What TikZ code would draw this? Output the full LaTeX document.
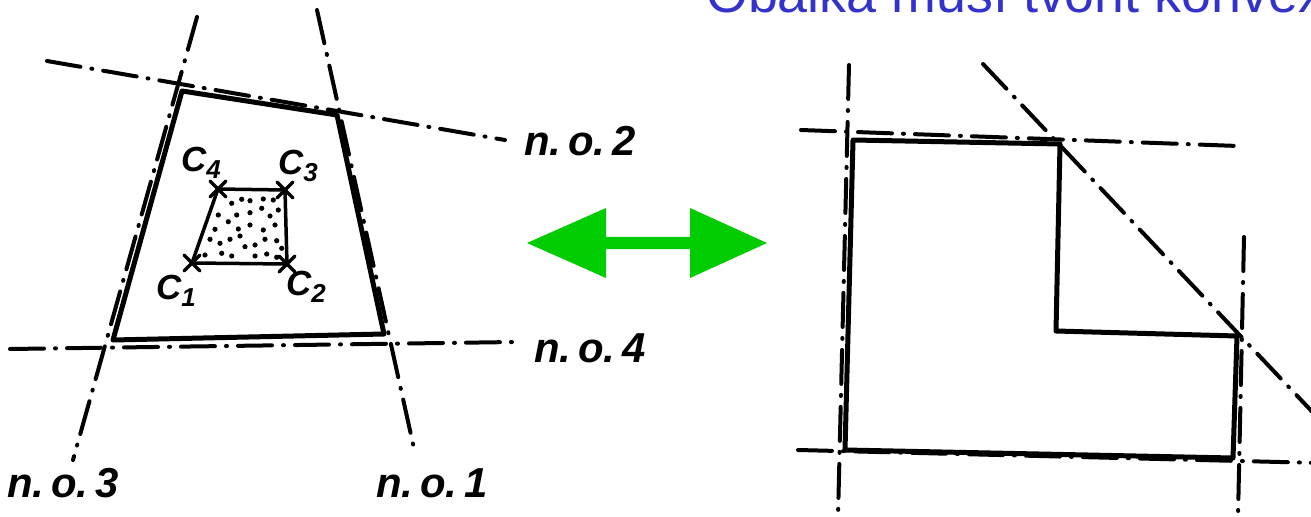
\documentclass[tikz,border=0pt]{standalone}
\usepackage{fontspec}
\newfontfamily\hand{Liberation Sans}
\newfontfamily\titlefont{Liberation Sans}
\definecolor{titleblue}{RGB}{51,51,204}
\definecolor{arrowgreen}{RGB}{0,204,0}
\begin{document}
\begin{tikzpicture}[x=1bp,y=-1bp,
  axisline/.style={line width=4bp,line cap=round,dash pattern=on 34bp off 11bp on 1bp off 11bp},
  outline/.style={line width=5bp,line join=round,line cap=round},
  thin outline/.style={line width=3.5bp,line join=round},
  lbl/.style={font=\hand\bfseries\itshape\fontsize{42}{42}\selectfont,inner sep=0pt},
  clbl/.style={font=\hand\bfseries\itshape\fontsize{35}{35}\selectfont,inner sep=0pt},
  cross/.style={line width=3.5bp,line cap=round}]
\useasboundingbox (0,0) rectangle (1311,517);
\clip (0,0) rectangle (1311,517);
\fill[white] (0,0) rectangle (1311,517);

% title (cropped at top, as in the reference)
\node[anchor=base west,inner sep=0pt,text=titleblue,font=\titlefont\fontsize{54}{54}\selectfont] (title) at (706,13) {Obálka musí tvořit konvexní};

% ---------- left figure ----------
\coordinate (l2a) at (47,61);  \coordinate (l2b) at (505,140);
\coordinate (l4a) at (10,349); \coordinate (l4b) at (515,342);
\coordinate (l3a) at (197,17); \coordinate (l3b) at (73,460);
\coordinate (l1a) at (317,10); \coordinate (l1b) at (415,453);
\draw[axisline] (l2a) -- (l2b);
\draw[axisline] (l4a) -- (l4b);
\draw[axisline] (l3a) -- (l3b);
\draw[axisline] (l1a) -- (l1b);

\coordinate (p1) at (182,91);
\coordinate (p2) at (337,115);
\coordinate (p3) at (384,334);
\coordinate (p4) at (113,340);
\draw[outline] (p1) -- (p2) -- (p3) -- (p4) -- cycle;

\coordinate (c1) at (192,263);
\coordinate (c2) at (287,264);
\coordinate (c3) at (285,190);
\coordinate (c4) at (218,189);
\draw[thin outline] (c1) -- (c2) -- (c3) -- (c4) -- cycle;
\foreach \p in {(231.7,203.3),(241.7,199.3),(250,200.7),(263.3,199),(273.3,200),
  (218.3,215),(228.3,221.7),(236.7,215),(250,212.7),(261.7,208.3),(270,216),(278.3,210),
  (215,229.3),(238.3,229),(250,225),(263.3,230),(275,225),
  (210,239.3),(220,243.3),(230,239.3),(240,236),(245,246.7),(255,245),(265,239.3),(276.7,240.7),(281.7,248.3),
  (205,255),(221.7,253.3),(231.7,256),(255,256),(266.7,254),(276.7,257.3)}
  \fill \p circle (2.6bp);
\foreach \c in {c1,c2,c3,c4}{
  \draw[cross] ([shift={(-8bp,-8bp)}]\c) -- ([shift={(8bp,8bp)}]\c);
  \draw[cross] ([shift={(-8bp,8bp)}]\c) -- ([shift={(8bp,-8bp)}]\c);
}
\node[clbl] (lc4) at (201,163) {C\raisebox{-7bp}{\fontsize{26}{26}\selectfont 4}};
\node[clbl] (lc3) at (298,166) {C\raisebox{-7bp}{\fontsize{26}{26}\selectfont 3}};
\node[clbl] (lc1) at (176,291) {C\raisebox{-7bp}{\fontsize{26}{26}\selectfont 1}};
\node[clbl] (lc2) at (306,287) {C\raisebox{-7bp}{\fontsize{26}{26}\selectfont 2}};

\node[lbl] (no2) at (580,141) {n.\,o.\,2};
\node[lbl] (no4) at (590,348) {n.\,o.\,4};
\node[lbl] (no3) at (63,483) {n.\,o.\,3};
\node[lbl] (no1) at (432,483) {n.\,o.\,1};

% ---------- double arrow ----------
\fill[arrowgreen] (527,243) -- (606,208) -- (606,237) -- (690,237) -- (690,208)
  -- (767,243) -- (690,278) -- (690,249) -- (606,249) -- (606,278) -- cycle;

% ---------- right figure ----------
\coordinate (rva) at (849,65);   \coordinate (rvb) at (838,517);
\coordinate (rha) at (801,130);  \coordinate (rhb) at (1238,146);
\coordinate (rda) at (983,64);   \coordinate (rdb) at (1320,420);
\coordinate (rra) at (1244,237); \coordinate (rrb) at (1238,517);
\coordinate (rba) at (798,450);  \coordinate (rbb) at (1320,463);
\draw[axisline] (rva) -- (rvb);
\draw[axisline] (rha) -- (rhb);
\draw[axisline] (rda) -- (rdb);
\draw[axisline] (rra) -- (rrb);
\draw[axisline] (rba) -- (rbb);

\coordinate (q1) at (853,140);
\coordinate (q2) at (1060,144);
\coordinate (q3) at (1056,331);
\coordinate (q4) at (1237,336);
\coordinate (q5) at (1233,458);
\coordinate (q6) at (845,450);
\draw[outline] (q1) -- (q2) -- (q3) -- (q4) -- (q5) -- (q6) -- cycle;
\end{tikzpicture}
\end{document}
